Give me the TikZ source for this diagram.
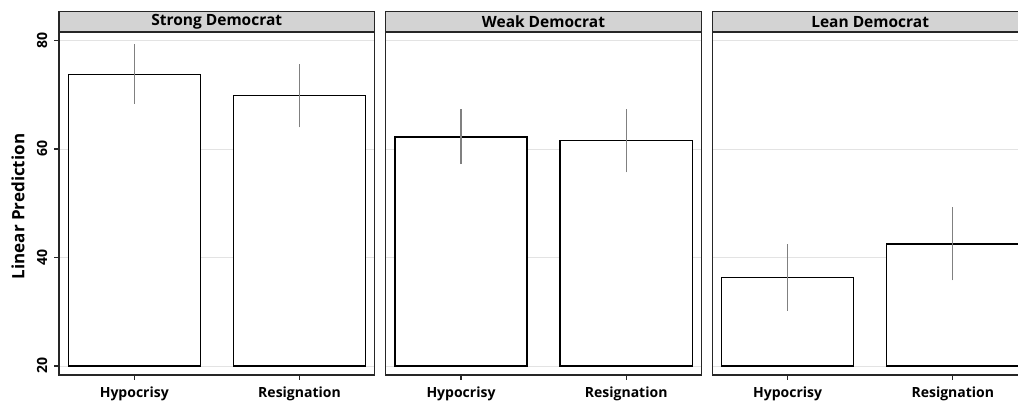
\documentclass[tikz,border=0pt]{standalone}
\usepackage{fontspec}
\setmainfont{Open Sans}
\usetikzlibrary{positioning}
\definecolor{stripgray}{HTML}{D3D3D3}
\definecolor{gridgray}{HTML}{E3E3E3}
\definecolor{cigray}{HTML}{808080}
\definecolor{framedark}{HTML}{262626}
\begin{document}
\begin{tikzpicture}[
  x=1pt, y=1pt,
  panel/.style={
    draw=framedark, line width=1.3pt, outer sep=0pt, inner sep=0pt,
    minimum width=315.5pt, minimum height=343pt
  },
  strip/.style={
    draw=framedark, line width=1.3pt, fill=stripgray, outer sep=0pt, inner sep=0pt,
    minimum width=315.5pt, minimum height=20.5pt, font=\fontsize{15.5}{17}\selectfont\bfseries
  },
  gridline/.style={gridgray, line width=1pt},
  bar/.style={draw=black, fill=white, line width=1.2pt},
  ci/.style={cigray, line width=1.2pt},
  tick/.style={framedark, line width=1.1pt},
  ticklabel/.style={font=\fontsize{14}{16}\selectfont\bfseries, inner sep=0pt},
  axislabel/.style={font=\fontsize{17}{19}\selectfont\bfseries, inner sep=0pt},
]
\useasboundingbox (0,0) rectangle (1018,408);

\node[panel, anchor=south west] (p1) at (59,33) {};
\node[panel, right=11.2pt of p1] (p2) {};
\node[panel, right=11.2pt of p2] (p3) {};

\begin{scope}[yshift=-66.5pt, y=5.425pt]
  \foreach \v in {20,40,60,80} {
    \draw[gridline] (59,\v) -- (374.5,\v);
    \draw[gridline] (385.7,\v) -- (701.2,\v);
    \draw[gridline] (712.3,\v) -- (1027.8,\v);
  }
  % Strong Democrat
  \draw[bar] (68.3,20) rectangle (200.3,73.8);
  \draw[bar] (233.3,20) rectangle (365.7,69.8);
  \draw[ci] (134.3,68.3) -- (134.3,79.4);
  \draw[ci] (299.5,64.0) -- (299.5,75.7);
  % Weak Democrat
  \draw[bar] (395.0,20) rectangle (527.0,62.2);
  \draw[bar] (560.0,20) rectangle (692.4,61.5);
  \draw[ci] (461.0,57.2) -- (461.0,67.4);
  \draw[ci] (626.2,55.7) -- (626.2,67.3);
  % Lean Democrat
  \draw[bar] (721.6,20) rectangle (853.6,36.3);
  \draw[bar] (886.6,20) rectangle (1019.0,42.5);
  \draw[ci] (787.6,30.2) -- (787.6,42.5);
  \draw[ci] (952.8,35.8) -- (952.8,49.3);

  \foreach \v in {20,40,60,80} {
    \draw[tick] (54,\v) -- (59,\v);
    \node[ticklabel, rotate=90] (y\v) at (42,\v) {\v};
  }
\end{scope}

\node[panel] at (p1) {};
\node[panel] at (p2) {};
\node[panel] at (p3) {};

\node[strip, above=0pt of p1] (s1) {Strong Democrat};
\node[strip, above=0pt of p2] (s2) {Weak Democrat};
\node[strip, above=0pt of p3] (s3) {Lean Democrat};

\foreach \x/\lab [count=\i] in {134.3/Hypocrisy, 299.5/Resignation, 461.0/Hypocrisy, 626.2/Resignation, 787.6/Hypocrisy, 952.8/Resignation} {
  \draw[tick] (\x,33) -- (\x,28.5);
  \node[ticklabel] (cat\i) at (\x,14) {\lab};
}

\node[axislabel, rotate=90] (ylab) at (18,201.5) {Linear Prediction};
\end{tikzpicture}
\end{document}
